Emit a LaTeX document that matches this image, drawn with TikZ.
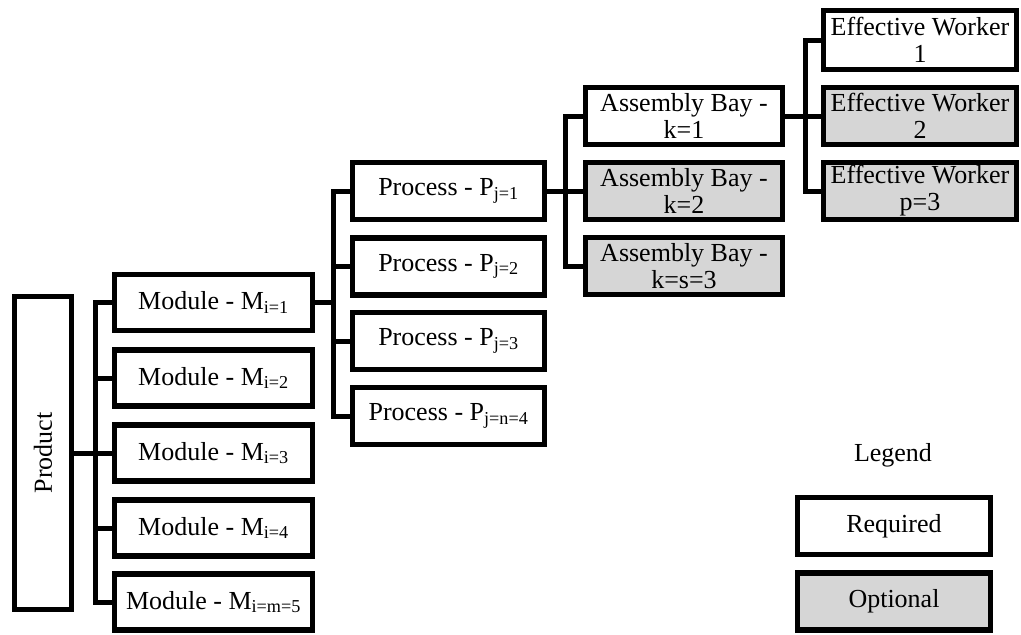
\documentclass[tikz,border=0pt]{standalone}
\usepackage{fontspec}
\setmainfont{Liberation Serif}
\usetikzlibrary{calc}
\definecolor{optgray}{RGB}{214,214,214}
\tikzset{
  lbl/.style={font=\fontsize{26}{27}\selectfont},
  box/.style={draw=black, line width=5.5pt, fill=white, inner sep=1pt,
    align=center, lbl},
  opt/.style={box, fill=optgray},
  conn/.style={line width=5pt, line join=miter},
}
\begin{document}
\begin{tikzpicture}[x=1pt, y=-1pt]
\useasboundingbox[fill=white] (0,0) rectangle (1021,635);

% root
\node[box, minimum width=57, minimum height=313] (prod) at (43,453) {};
\node[rotate=90, lbl] (prodlbl) at (prod.center) {Product};

% modules
\foreach \n/\y/\s in {m1/302.5/i=1, m2/378/i=2, m3/453/i=3, m4/528/i=4, m5/602/i=m=5}
  \node[box, minimum width=198, minimum height=56] (\n) at (213.5,\y) {Module - M\textsubscript{\s}};

% processes
\foreach \n/\y/\s in {p1/191/j=1, p2/266.5/j=2, p3/341/j=3, p4/416/j=n=4}
  \node[box, minimum width=192, minimum height=57] (\n) at (448.5,\y) {Process - P\textsubscript{\s}};

% assembly bays
\node[box, minimum width=197, minimum height=57] (a1) at (684,116) {Assembly Bay -\\k=1};
\node[opt, minimum width=197, minimum height=57] (a2) at (684,191) {Assembly Bay -\\k=2};
\node[opt, minimum width=197, minimum height=57] (a3) at (684,266) {Assembly Bay -\\k=s=3};

% effective workers
\node[box, minimum width=193, minimum height=59] (w1) at (920,40) {Effective Worker\\1};
\node[opt, minimum width=193, minimum height=57] (w2) at (920,116) {Effective Worker\\2};
\node[opt, minimum width=193, minimum height=57] (w3) at (920,191) {Effective Worker\\p=3};

% connector bus lines
\coordinate (bm) at (95,0);
\coordinate (bp) at (333,0);
\coordinate (ba) at (565,0);
\coordinate (bw) at (805,0);

\draw[conn] (prod.east |- m3.west) -- (m3.west -| bm);
\draw[conn] (m1.west) -- (m1.west -| bm) -- (m5.west -| bm) -- (m5.west);
\foreach \n in {m2,m3,m4} \draw[conn] (\n.west) -- (\n.west -| bm);

\draw[conn] (m1.east) -- (m1.east -| bp);
\draw[conn] (p1.west) -- (p1.west -| bp) -- (p4.west -| bp) -- (p4.west);
\foreach \n in {p2,p3} \draw[conn] (\n.west) -- (\n.west -| bp);

\draw[conn] (p1.east) -- (p1.east -| ba);
\draw[conn] (a1.west) -- (a1.west -| ba) -- (a3.west -| ba) -- (a3.west);
\draw[conn] (a2.west) -- (a2.west -| ba);

\draw[conn] (a1.east) -- (a1.east -| bw);
\draw[conn] (w1.west) -- (w1.west -| bw) -- (w3.west -| bw) -- (w3.west);
\draw[conn] (w2.west) -- (w2.west -| bw);

% legend
\node[lbl] (legend) at (893,455) {Legend};
\node[box, minimum width=193, minimum height=57] (req) at (894,526) {Required};
\node[opt, minimum width=193, minimum height=57] (optl) at (894,601.5) {Optional};
\end{tikzpicture}
\end{document}
